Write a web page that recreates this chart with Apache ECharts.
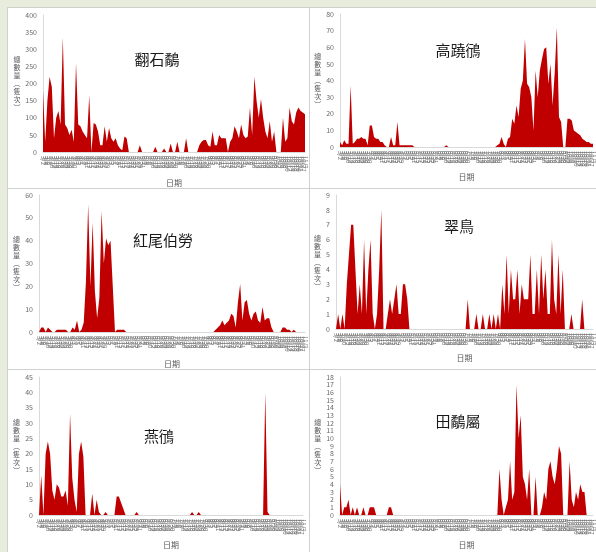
<!DOCTYPE html>
<html>
<head>
<meta charset="utf-8">
<script src="https://cdn.jsdelivr.net/npm/echarts@6/dist/echarts.min.js"></script>
<style>
  html, body { margin: 0; padding: 0; width: 596px; height: 552px; overflow: hidden; background: #e8ecdd; }
  .panel { position: absolute; background: #fff; border: 1px solid #cfd2cc; box-sizing: border-box; }
  #chart { position: absolute; left: 0; top: 0; width: 596px; height: 552px; }
</style>
</head>
<body>
<div class="panel" style="left:7px;top:7px;width:303px;height:182px;"></div>
<div class="panel" style="left:309px;top:7px;width:300px;height:182px;"></div>
<div class="panel" style="left:7px;top:188px;width:303px;height:182px;"></div>
<div class="panel" style="left:309px;top:188px;width:300px;height:182px;"></div>
<div class="panel" style="left:7px;top:369px;width:303px;height:200px;"></div>
<div class="panel" style="left:309px;top:369px;width:300px;height:200px;"></div>
<div id="chart"></div>
<script>
// survey dates (x categories)
const dates = ('3/2 3/4 3/6 3/8 3/10 3/12 3/14 3/16 3/18 3/20 3/22 3/24 3/26 3/28 3/30 ' +
  '4/1 4/3 4/5 4/7 4/9 4/11 4/13 4/15 4/17 4/19 4/21 4/23 4/25 4/27 4/29 ' +
  '5/1 5/3 5/5 5/7 5/9 5/11 5/13 5/15 5/17 5/19 5/21 5/23 5/25 5/27 5/29 5/31 ' +
  '6/2 6/4 6/6 6/8 6/10 6/12 6/14 6/16 6/18 6/20 6/22 6/24 6/26 6/28 6/30 ' +
  '7/2 7/4 7/6 7/8 7/10 7/12 7/14 7/16 7/18 7/20 7/22 7/24 7/26 7/28 7/30 ' +
  '8/1 8/3 8/5 8/7 8/9 8/11 8/13 8/15 8/17 8/19 8/21 8/23 8/25 8/27 8/29 8/31 ' +
  '9/2 9/4 9/6 9/8 9/10 9/12 9/14 9/16 9/18 9/20 9/22 9/24 9/26 9/28 9/30 ' +
  '10/2 10/4 10/6 10/8 10/10 10/12 10/14 10/16 10/18 10/20 10/22 10/27 11/3').split(' ');

const speciesNames = ['翻石鷸', '高蹺鴴', '紅尾伯勞', '翠鳥', '燕鴴', '田鷸屬'];

// counts per survey date
const turnstone = [180,30,150,220,190,40,100,120,80,335, 80,70,50,65,30,260,80,75,60,50,
  40,165,0,85,80,60,20,20,75,30, 70,40,30,40,20,10,5,45,40,0, 0,0,0,0,20,0,0,0,0,0,
  0,15,0,0,0,10,0,0,25,0, 0,30,0,0,0,40,0,0,0,0, 0,20,30,35,35,20,15,60,20,20,
  50,40,40,40,0,30,40,75,60,40, 80,50,40,45,130,50,220,150,100,155, 100,60,40,90,30,60,0,0,0,100,
  30,40,130,90,80,115,130,120,115,110];
const stilt = [3,1,4,2,2,37,2,3,5,5, 6,5,5,1,13,13,6,5,5,3, 3,1,0,0,6,1,1,15,1,1,
  1,1,1,1,1,0,0,0,0,0, 0,0,0,0,0,0,0,0,0,0, 1,0,0,0,0,0,0,0,0,0, 0,0,0,0,0,0,0,0,0,0,
  0,0,0,0,1,2,6,2,0,5, 6,17,14,25,18,35,40,65,38,36, 30,10,46,30,46,53,59,60,38,50,
  25,45,72,18,15,0,0,17,17,16, 10,9,8,7,5,4,3,3,2,2];
const shrike = [0,2,2,0,2,1,0,0,1,1, 1,1,1,0,0,2,1,5,0,1, 4,22,56,20,48,18,6,15,53,30,
  41,38,40,20,0,1,1,1,1,0, 0,0,0,0,0,0,0,0,0,0, 0,0,0,0,0,0,0,0,0,0, 0,0,0,0,0,0,0,0,0,0,
  0,0,0,0,0,0,0,0,0,1, 2,3,5,3,4,5,8,7,2,13, 21,5,13,14,8,5,8,9,5,4,
  11,5,6,6,2,0,0,0,0,2, 2,1,1,0,1,0,0,0,0,0];
const kingfisher = [0,1,0,1,0,3,5,7,7,4, 1,3,1,6,1,4,6,1,0,1, 4,8,0,0,1,2,1,2,3,1,
  1,3,3,2,0,0,0,0,0,0, 0,0,0,0,0,0,0,0,0,0, 0,0,0,0,0,0,0,0,0,0, 0,2,0,0,0,1,0,0,1,0,
  0,1,0,1,0,1,0,3,1,5, 1,4,2,2,4,1,3,2,2,2, 5,1,1,4,1,5,2,4,1,1,
  6,2,1,5,1,4,0,0,0,1, 0,0,0,0,2,0,0,0,0,0];
const pratincole = [0,13,0,20,24,20,8,5,10,9, 6,6,8,3,33,12,5,1,20,24, 19,0,0,0,7,0,5,1,0,0,
  1,0,0,0,0,6,6,4,2,0, 0,0,0,0,1,0,0,0,0,0, 0,0,0,0,0,0,0,0,0,0, 0,0,0,0,0,0,0,0,0,1,
  0,0,1,0,0,0,0,0,0,0, 0,0,0,0,0,0,0,0,0,0, 0,0,0,0,0,0,0,0,0,0,
  0,0,40,1,0,0,0,0,0,0, 0,0,0,0,0,0,0,0,0,0];
const snipe = [4,0,1,1,2,0,1,0,1,0, 0,1,0,0,1,1,1,0,0,0, 0,0,0,1,1,0,0,0,0,0,
  0,0,0,0,0,0,0,0,0,0, 0,0,0,0,0,0,0,0,0,0, 0,0,0,0,0,0,0,0,0,0, 0,0,0,0,0,0,0,0,0,0,
  0,0,0,0,0,6,2,0,1,2, 7,2,3,17,10,13,5,4,2,6, 0,0,5,0,0,1,3,2,6,7,
  5,4,6,9,8,0,0,0,7,2, 1,3,2,4,3,3,0,0,0,0];

const seriesData = [turnstone, stilt, shrike, kingfisher, pratincole, snipe];
const yMax = [400, 80, 60, 9, 45, 18];
const yStep = [50, 10, 10, 1, 5, 1];

// layout per panel
const panels = [
  { grid: { left: 43, top: 15, width: 262, height: 137 }, title: [157, 59], yGap: 21, xGap: 27 },
  { grid: { left: 340, top: 14, width: 262, height: 133 }, title: [458, 50], yGap: 18, xGap: 26 },
  { grid: { left: 39, top: 195, width: 266, height: 137 }, title: [163, 240], yGap: 19, xGap: 28 },
  { grid: { left: 336, top: 195, width: 262, height: 134 }, title: [459, 226], yGap: 15, xGap: 25 },
  { grid: { left: 39, top: 377, width: 264, height: 138 }, title: [159, 436], yGap: 19, xGap: 26 },
  { grid: { left: 340, top: 377, width: 262, height: 138 }, title: [458, 421], yGap: 18, xGap: 26 },
];

const FONT = '"Noto Sans CJK TC", "Noto Sans", sans-serif';
const yName = '總\n數\n量\n︵\n隻\n次\n︶';

const chart = echarts.init(document.getElementById('chart'), null, { renderer: 'canvas' });
chart.setOption({
  animation: false,
  backgroundColor: 'transparent',
  textStyle: { fontFamily: FONT },
  grid: panels.map(p => ({ ...p.grid, containLabel: false })),
  xAxis: panels.map((p, i) => ({
    type: 'category',
    gridIndex: i,
    data: dates,
    boundaryGap: false,
    axisLine: { lineStyle: { color: '#d9d9d9', width: 1 } },
    axisTick: { show: false },
    axisLabel: { interval: 0, rotate: -90, fontSize: 6, color: '#7a7a7a', margin: 4, fontFamily: FONT },
    name: '日期',
    nameLocation: 'middle',
    nameGap: p.xGap,
    nameTextStyle: { fontSize: 8, color: '#595959', fontFamily: FONT },
  })),
  yAxis: panels.map((p, i) => ({
    type: 'value',
    gridIndex: i,
    min: 0,
    max: yMax[i],
    interval: yStep[i],
    axisLine: { show: true, lineStyle: { color: '#d9d9d9', width: 1 } },
    axisTick: { show: false },
    splitLine: { show: false },
    axisLabel: { fontSize: 7, color: '#6b6b6b', margin: 6, fontFamily: FONT },
    name: yName,
    nameLocation: 'middle',
    nameRotate: 0,
    nameGap: p.yGap,
    nameTextStyle: { fontSize: 7, lineHeight: 8, color: '#595959', fontFamily: FONT },
  })),
  series: seriesData.map((d, i) => ({
    type: 'line',
    name: speciesNames[i],
    xAxisIndex: i,
    yAxisIndex: i,
    data: d,
    symbol: 'none',
    lineStyle: { width: 0 },
    areaStyle: { color: '#c00000', opacity: 1 },
  })),
  graphic: panels.map((p, i) => ({
    type: 'text',
    x: p.title[0],
    y: p.title[1],
    style: {
      text: speciesNames[i],
      fontSize: 15,
      fontFamily: FONT,
      fill: '#1a1a1a',
      align: 'center',
      verticalAlign: 'middle',
    },
  })),
});
</script>
</body>
</html>
